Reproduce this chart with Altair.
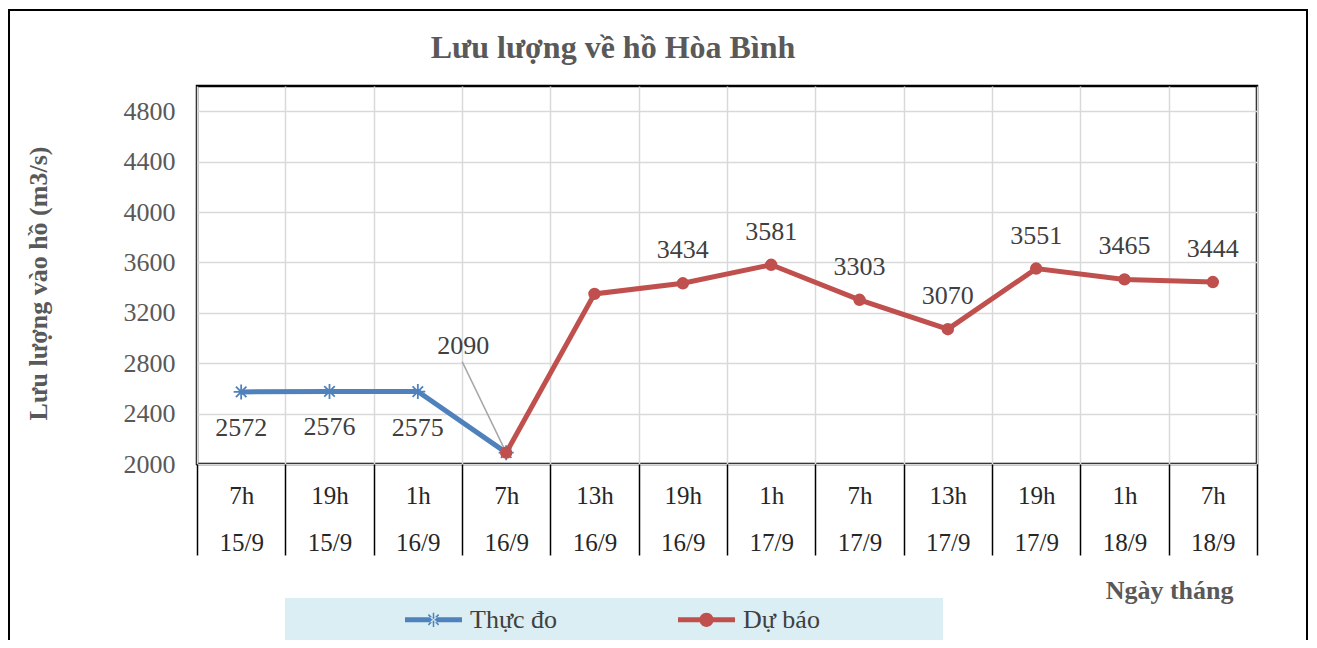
import altair as alt
import pandas as pd

categories = ["7h|15/9", "19h|15/9", "1h|16/9", "7h|16/9", "13h|16/9", "19h|16/9",
              "1h|17/9", "7h|17/9", "13h|17/9", "19h|17/9", "1h|18/9", "7h|18/9"]
series_names = ["Thực đo", "Dự báo"]
thuc_do = [2572, 2576, 2575, 2090, None, None, None, None, None, None, None, None]
du_bao = [None, None, None, 2090, 3350, 3434, 3581, 3303, 3070, 3551, 3465, 3444]
thuc_do_labels = ["below", "below", "below", "callout", "", "", "", "", "", "", "", ""]
du_bao_labels = ["", "", "", "", "", "above", "above", "above", "above", "above", "above", "above"]
y_ticks = [2000, 2400, 2800, 3200, 3600, 4000, 4400, 4800]

BLUE = "#4f81bd"
RED = "#c0504d"
FONT = "Liberation Serif"

rows = []
for name, vals, labs in [(series_names[0], thuc_do, thuc_do_labels),
                         (series_names[1], du_bao, du_bao_labels)]:
    for c, v, l in zip(categories, vals, labs):
        if v is not None:
            rows.append({"cat": c, "value": v, "series": name, "lab": l})
df = pd.DataFrame(rows)
one = pd.DataFrame({"a": [1]})

x_enc = alt.X(
    "cat:N",
    sort=categories,
    bandPosition=0.5,
    scale=alt.Scale(type="band", domain=categories, paddingInner=0, paddingOuter=0),
    axis=alt.Axis(
        title="Ngày tháng",
        titleFont=FONT, titleFontSize=26, titleFontWeight="bold", titleColor="#595959",
        titleX=1036, titleY=126, titleAlign="right", titleBaseline="middle",
        labelExpr="split(datum.label, '|')",
        labelAngle=0, labelFont=FONT, labelFontSize=25, labelColor="#262626",
        labelLineHeight=47, labelPadding=-72, labelBaseline="top",
        tickBand="extent", ticks=True, tickSize=91, tickColor="black", tickWidth=1.5,
        domain=False, grid=True, gridColor="#d9d9d9", gridWidth=1.5,
    ),
)
y_enc = alt.Y(
    "value:Q",
    scale=alt.Scale(domain=[2000, 5000], nice=False, zero=False),
    axis=alt.Axis(
        values=y_ticks, format="d",
        title="Lưu lượng vào hồ (m3/s)",
        titleFont=FONT, titleFontSize=26, titleFontWeight="bold", titleColor="#595959",
        titleX=-159, titleY=197, titleAlign="center", titleBaseline="middle",
        labelFont=FONT, labelFontSize=26, labelColor="#595959", labelPadding=22,
        ticks=False, domain=False, grid=True, gridColor="#d9d9d9", gridWidth=1.5,
    ),
)

# legend symbols: line segment + marker, all as filled outlines
bar = "M-1,-0.09L1,-0.09L1,0.09L-1,0.09Z"
blue_legend = (bar + " M-0.026,-0.25L0.026,-0.25L0.026,0.25L-0.026,0.25Z"
               " M-0.198,-0.162L0.162,0.198L0.198,0.162L-0.162,-0.198Z"
               " M-0.162,0.198L0.198,-0.162L0.162,-0.198L-0.198,0.162Z")
red_legend = bar + " M-0.25,0A0.25,0.25 0 1 1 0.25,0A0.25,0.25 0 1 1 -0.25,0Z"

legend = alt.Legend(
    title=None, orient="none", legendX=208, legendY=505, direction="horizontal",
    labelFont=FONT, labelFontSize=26, labelColor="#404040", labelOffset=8,
    columnPadding=120, padding=0, symbolSize=3249, symbolOpacity=1, symbolStrokeWidth=0,
)
color_scale = alt.Scale(domain=series_names, range=[BLUE, RED])
shape_scale = alt.Scale(domain=series_names, range=[blue_legend, red_legend])

frame = alt.Chart(one).mark_rect(filled=False, stroke="black", strokeWidth=2).encode(
    x=alt.value(-188), x2=alt.value(1110), y=alt.value(-76), y2=alt.value(620)
)
legend_box = alt.Chart(one).mark_rect(fill="#daeef3").encode(
    x=alt.value(88), x2=alt.value(746), y=alt.value(512), y2=alt.value(554)
)

legend_layer = alt.Chart(df).mark_point(filled=True, opacity=0).encode(
    x=x_enc, y=y_enc,
    color=alt.Color("series:N", scale=color_scale, legend=legend),
    shape=alt.Shape("series:N", scale=shape_scale, legend=legend),
)
lines = alt.Chart(df).mark_line(strokeWidth=5).encode(
    x=x_enc, y=y_enc,
    color=alt.Color("series:N", scale=color_scale, legend=legend),
)
leader = alt.Chart(df).transform_filter("datum.lab == 'callout'").mark_rule(
    color="#a6a6a6", strokeWidth=1.5, x2Offset=-44, y2Offset=-91
).encode(x=x_enc, x2=alt.X2("cat:N", bandPosition=0.5), y=y_enc, y2=alt.Y2("value:Q"))

blue_pts = alt.Chart(df).transform_filter("datum.series === '" + series_names[0] + "'").mark_point(
    shape="M-1,0L1,0M0,-1L0,1M-0.7,-0.7L0.7,0.7M-0.7,0.7L0.7,-0.7",
    size=225, filled=False, color=BLUE, strokeWidth=1.8, opacity=1,
).encode(x=x_enc, y=y_enc)
red_pts = alt.Chart(df).transform_filter("datum.series === '" + series_names[1] + "'").mark_circle(
    size=154, color=RED, opacity=1
).encode(x=x_enc, y=y_enc)

txt = dict(font=FONT, fontSize=26, color="#404040", baseline="middle", align="center")
lab_above = alt.Chart(df).transform_filter("datum.lab == 'above'").mark_text(dy=-33, **txt).encode(
    x=x_enc, y=y_enc, text="value:Q")
lab_below = alt.Chart(df).transform_filter("datum.lab == 'below'").mark_text(dy=36, **txt).encode(
    x=x_enc, y=y_enc, text="value:Q")
lab_callout = alt.Chart(df).transform_filter("datum.lab == 'callout'").mark_text(dx=-43, dy=-107, **txt).encode(
    x=x_enc, y=y_enc, text="value:Q")

chart = alt.layer(
    frame, legend_box, legend_layer, lines, leader, blue_pts, red_pts, lab_above, lab_below, lab_callout
).properties(
    width=1060, height=378,
    autosize=alt.AutoSizeParams(type="none"),
    padding={"left": 189, "top": 78, "right": 52, "bottom": 176},
    title=alt.TitleParams(
        "Lưu lượng về hồ Hòa Bình", font=FONT, fontSize=32, fontWeight="bold",
        color="#595959", anchor="middle", frame="group", dx=-114, dy=109, offset=38,
        baseline="middle",
    ),
).configure_view(stroke="black", strokeWidth=2.5)

chart.save("out.html", embed_options={"renderer": "svg", "actions": False})
